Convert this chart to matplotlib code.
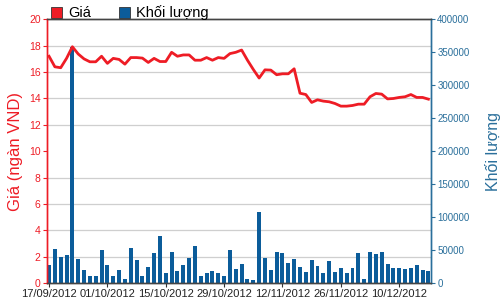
import matplotlib
matplotlib.use("Agg")
import matplotlib.pyplot as plt
from matplotlib.patches import Patch
from matplotlib.ticker import MultipleLocator, FuncFormatter
import numpy as np
import pandas as pd

plt.rcParams['font.family'] = ['Liberation Sans', 'DejaVu Sans']

dates = pd.bdate_range('2012-09-17', periods=66)
date_labels = [d.strftime('%d/%m/%Y') for d in dates]

price = [17.2, 16.4, 16.33, 17.04, 17.92, 17.37, 17.0, 16.78, 16.78, 17.2,
         16.66, 17.04, 16.96, 16.6, 17.1, 17.1, 17.06, 16.73, 17.04, 16.8,
         16.8, 17.5, 17.2, 17.3, 17.3, 16.9, 16.9, 17.1, 16.9, 17.1,
         17.04, 17.4, 17.5, 17.67, 16.9, 16.2, 15.55, 16.17, 16.15, 15.8,
         15.87, 15.87, 16.25, 14.4, 14.3, 13.7, 13.9, 13.8, 13.75, 13.62,
         13.42, 13.42, 13.47, 13.57, 13.57, 14.13, 14.38, 14.33, 13.97, 14.0,
         14.08, 14.13, 14.3, 14.08, 14.08, 13.95]

volume = [28200, 51300, 40000, 42600, 358000, 37400, 20000, 11800, 10300, 49700,
          28200, 11800, 20000, 7200, 53800, 34900, 10300, 24600, 46200, 72300,
          15400, 47700, 18500, 28200, 37900, 55900, 11800, 15400, 18500, 15400,
          10300, 50800, 22000, 29700, 7200, 5000, 108500, 39000, 19500, 48000,
          46500, 31000, 36500, 24500, 16500, 35000, 26000, 15000, 34000, 16500,
          23000, 15000, 23000, 46500, 7000, 48000, 45000, 48000, 29500, 23000,
          23000, 21500, 23000, 27500, 20000, 18000]

legend_labels = ['Giá', 'Khối lượng']
ylabel_left = 'Giá (ngàn VND)'
ylabel_right = 'Khối lượng'

RED = '#ee1c25'
BLUE = '#0b5c9a'
AXBLUE = '#2a6f9b'

fig = plt.figure(figsize=(5.01, 3.0), dpi=100)
ax = fig.add_axes([0.0938, 0.0557, 0.7665, 0.88])
ax2 = ax.twinx()
ax.set_zorder(2)
ax2.set_zorder(1)
ax.patch.set_visible(False)
ax2.patch.set_facecolor('white')

x = np.arange(len(dates))
ax2.bar(x, volume, width=0.68, color=BLUE, zorder=2)
ax.plot(x, price, color=RED, lw=2.0, solid_joinstyle='round', zorder=3)

ax.set_xlim(-0.35, 65.45)
ax.set_ylim(0, 20)
ax2.set_ylim(0, 400000)

# grid drawn on the lower (volume) axis so bars cover it
ax2.yaxis.set_minor_locator(MultipleLocator(40000))
ax2.grid(which='minor', axis='y', color='#cfcfcf', lw=0.9, zorder=0)
ax2.tick_params(axis='y', which='minor', length=0)
ax2.set_axisbelow(True)

ax.set_yticks(np.arange(0, 21, 2))
ax.tick_params(axis='y', colors=RED, labelsize=7.5, length=3, width=0.8, pad=1.5)
ax2.set_yticks(np.arange(0, 400001, 50000))
ax2.yaxis.set_major_formatter(FuncFormatter(lambda v, p: '%d' % v))
ax2.tick_params(axis='y', which='major', colors=AXBLUE, labelsize=7, length=3, width=0.8, pad=1.5)
for lbl in ax2.get_yticklabels():
    lbl.set_color(AXBLUE)

ticks = x[::10]
ax.set_xticks(ticks)
ax.set_xticklabels([date_labels[i] for i in ticks])
ax.tick_params(axis='x', colors='#333333', labelsize=8, length=3, width=0.8, pad=1)
for lbl in ax.get_xticklabels():
    lbl.set_color('#222222')

for a in (ax, ax2):
    a.spines['left'].set_color(RED)
    a.spines['right'].set_color(AXBLUE)
    a.spines['top'].set_color('#444444')
    a.spines['bottom'].set_color('#444444')
    for s in a.spines.values():
        s.set_linewidth(1.0)

ax.set_ylabel(ylabel_left, color=RED, fontsize=12, labelpad=4)
ax2.set_ylabel(ylabel_right, color=AXBLUE, fontsize=11.5, labelpad=11)

handles = [Patch(facecolor=RED, edgecolor='#333333', lw=0.6),
           Patch(facecolor=BLUE, edgecolor='#333333', lw=0.6)]
fig.legend(handles, legend_labels, loc='upper left', bbox_to_anchor=(0.075, 1.025),
           ncol=2, frameon=False, fontsize=10.5, handlelength=0.8, handleheight=0.8,
           handletextpad=0.4, columnspacing=1.9)

fig.savefig('out.png', dpi=100)
